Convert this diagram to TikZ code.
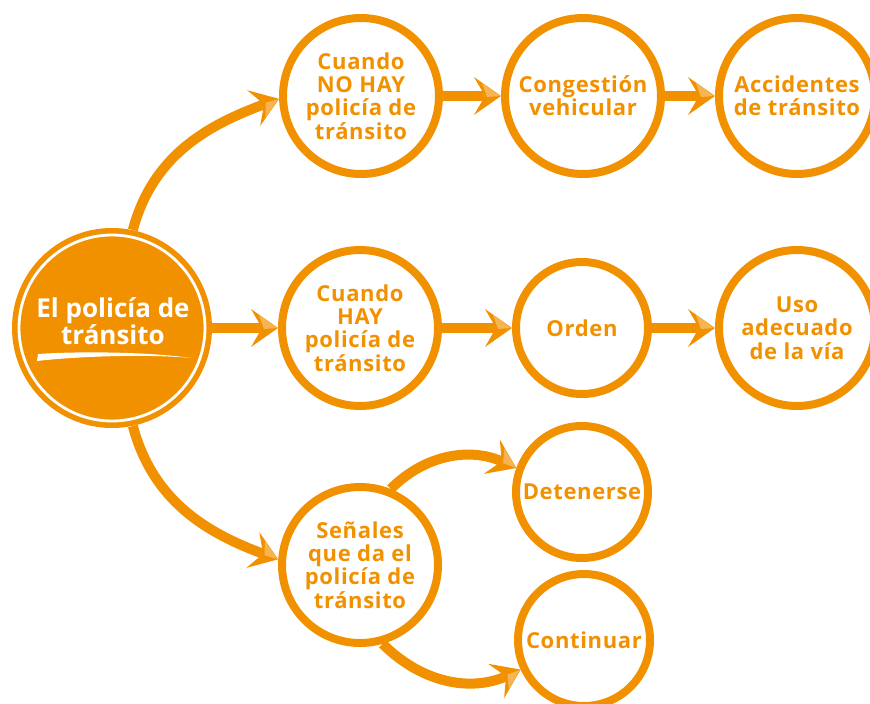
\documentclass[tikz,border=0pt]{standalone}
\usepackage{fontspec}
\setmainfont{Open Sans}
\usetikzlibrary{decorations.markings}
\definecolor{org}{RGB}{242,145,0}
\definecolor{orglt}{RGB}{246,180,82}
\begin{document}
\begin{tikzpicture}[x=1pt,y=1pt,
  bub/.style={circle,draw=org,line width=8pt,inner sep=0pt,text=org,align=center,
    font=\bfseries\fontsize{22}{23.3}\selectfont\addfontfeatures{LetterSpace=3}},
  bigbub/.style={bub,minimum size=156pt},
  smallbub/.style={bub,minimum size=132pt},
  conn/.style={draw=org,line width=10pt,shorten >=14pt},
  headL/.style={postaction={decorate,decoration={markings,mark=at position 1 with {
     \fill[org] (0,0) -- (-27,19) -- (-16,0) -- (-27,-19) -- cycle;
     \fill[orglt] (-1,0) -- (-19,13) -- (-14,-1) -- cycle;}}}},
  headR/.style={postaction={decorate,decoration={markings,mark=at position 1 with {
     \fill[org] (0,0) -- (-27,19) -- (-16,0) -- (-27,-19) -- cycle;
     \fill[orglt] (-1,0) -- (-19,-13) -- (-14,1) -- cycle;}}}}
]
\fill[white] (0,0) rectangle (870,-704);
\clip (0,0) rectangle (870,-704);

% main circle
\node[circle,fill=org,minimum size=200pt,inner sep=0pt] (main) at (112,-328) {};
\draw[white,line width=2.8pt] (main.center) circle (93);
\node[text=white,align=center,font=\bfseries\fontsize{26}{26}\selectfont] (maintxt) at (113,-321) {El policía de\\tránsito};
\fill[white] (37,-361) .. controls (80,-356) and (150,-354) .. (191,-358)
   .. controls (150,-352) and (80,-351) .. (38,-354) -- cycle;

% bubbles
\node[bigbub] (noh) at (361,-96) {Cuando\\NO HAY\\policía de\\tránsito};
\node[bigbub] (cong) at (583,-96) {Congestión\\vehicular};
\node[bigbub] (acc) at (797,-96) {Accidentes\\de tránsito};
\node[bigbub] (hay) at (360,-328) {Cuando\\HAY\\policía de\\tránsito};
\node[smallbub] (orden) at (582,-328) {Orden};
\node[bigbub] (uso) at (797,-328) {Uso\\adecuado\\de la vía};
\node[bigbub] (sen) at (360,-565) {Señales\\que da el\\policía de\\tránsito};
\node[smallbub] (det) at (582,-492) {Detenerse};
\node[smallbub] (cont) at (584,-640) {Continuar};

% connectors
\draw[conn,headL] (main.east) -- (hay.west);
\draw[conn,headL] (hay.east) -- (orden.west);
\draw[conn,headL] (orden.east) -- (uso.west);
\draw[conn,headL] (noh.east) -- (cong.west);
\draw[conn,headL] (cong.east) -- (acc.west);
\draw[conn,headR] (main.78) to[out=75,in=200] (noh.182);
\draw[conn,headL] (main.-78) to[out=-75,in=160] (sen.176);
\draw[conn,headL] (sen.68) to[out=45,in=155] (det.160);
\draw[conn,headR] (sen.-74) to[out=-45,in=205] (cont.205);
\end{tikzpicture}
\end{document}
